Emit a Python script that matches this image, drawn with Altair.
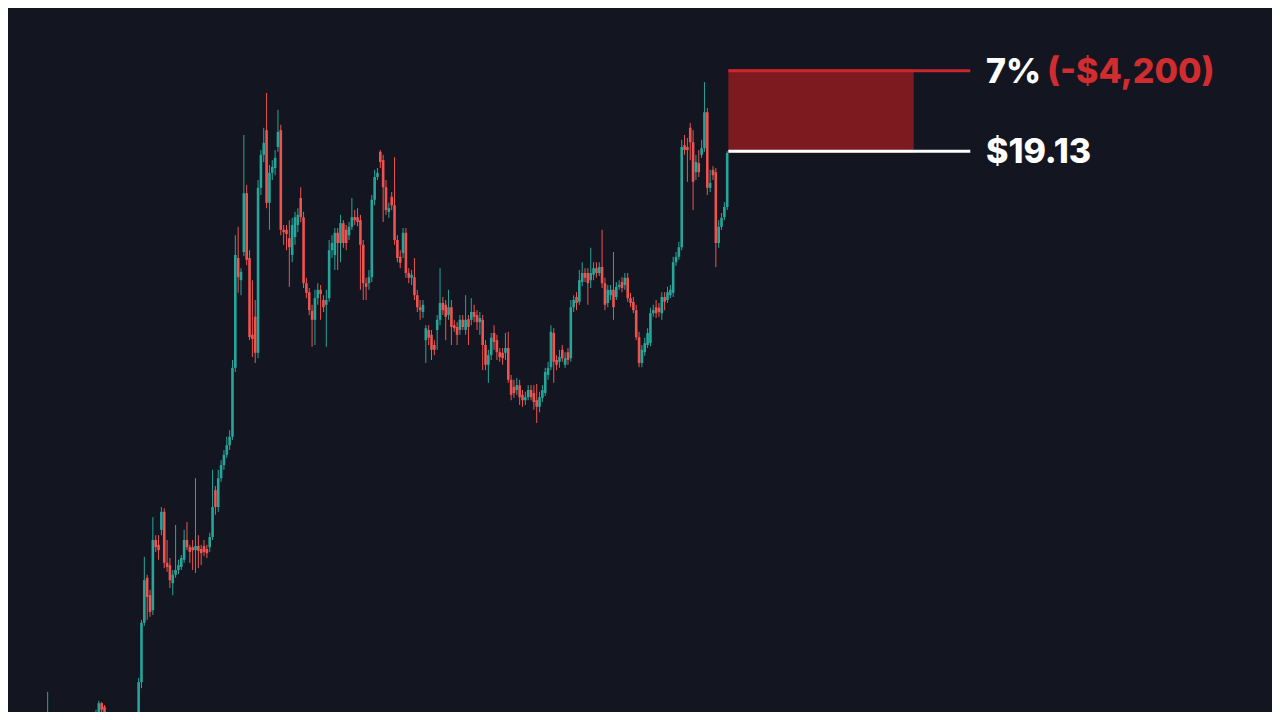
import altair as alt
import pandas as pd

# ---- candle data (price in $) ----
opens = [
    9.48, 9.52, 9.62, 9.52, 9.58, 9.48, 9.63, 9.55, 9.63, 9.75,
    9.62, 9.48, 9.35, 9.23, 9.28, 9.12, 8.98, 9.07, 8.95, 9.15,
    9.23, 9.18, 9.32, 9.40, 9.35, 9.48, 9.78, 9.93, 9.87, 9.75,
    9.57, 9.40, 9.28, 9.35, 9.18, 9.07, 9.15, 9.02, 9.12, 9.18,
    9.23, 10.28, 11.27, 12.02, 11.73, 11.48, 12.65, 12.57, 12.82, 13.12,
    12.27, 12.23, 11.93, 12.07, 12.15, 12.20, 12.32, 12.65, 12.53, 12.53,
    12.48, 12.55, 12.50, 12.55, 12.50, 12.53, 12.70, 13.48, 13.20, 13.68,
    13.90, 14.07, 14.23, 14.37, 15.52, 17.35, 16.98, 17.45, 18.43, 17.35,
    16.07, 16.37, 15.77, 18.52, 19.07, 19.48, 18.27, 18.77, 18.85, 19.20,
    19.48, 17.82, 17.82, 17.68, 17.40, 17.70, 17.90, 18.35, 18.03, 16.93,
    16.78, 16.47, 16.32, 16.68, 16.82, 16.65, 16.57, 16.68, 17.48, 17.40,
    17.77, 17.60, 17.93, 17.82, 17.73, 17.87, 18.03, 18.03, 17.98, 17.57,
    16.93, 16.93, 17.03, 18.32, 18.70, 19.12, 18.98, 18.53, 18.12, 18.37,
    18.23, 17.65, 17.37, 17.43, 17.77, 17.10, 17.02, 17.03, 16.73, 16.53,
    16.45, 15.98, 16.15, 16.07, 15.90, 16.15, 16.32, 16.60, 16.57, 16.40,
    16.53, 16.23, 16.20, 16.15, 16.32, 16.15, 16.33, 16.32, 16.45, 16.40,
    16.28, 16.32, 15.90, 15.57, 15.73, 16.10, 15.98, 15.78, 15.77, 15.77,
    15.85, 15.32, 15.20, 15.15, 15.23, 15.07, 14.98, 15.03, 15.15, 15.10,
    14.98, 14.87, 15.02, 15.10, 15.40, 15.53, 16.10, 15.65, 15.62, 15.82,
    15.57, 15.78, 15.68, 16.53, 16.70, 16.62, 16.95, 17.10, 17.10, 16.98,
    17.07, 17.18, 17.10, 17.20, 16.93, 16.60, 16.73, 16.82, 16.70, 16.87,
    16.95, 16.90, 17.02, 16.68, 16.62, 16.48, 16.03, 15.60, 15.78, 15.90,
    15.93, 16.43, 16.53, 16.52, 16.43, 16.70, 16.65, 16.73, 16.77, 17.28,
    17.37, 17.53, 19.23, 19.20, 19.52, 19.28, 18.78, 18.93, 19.07, 19.18,
    19.78, 18.52, 18.82, 18.78, 17.60, 17.87, 18.03, 18.20,
]
closes = [
    9.57, 9.65, 9.52, 9.58, 9.48, 9.65, 9.55, 9.68, 9.75, 9.62,
    9.48, 9.35, 9.23, 9.28, 9.12, 8.98, 9.07, 8.95, 9.15, 9.23,
    9.18, 9.32, 9.40, 9.35, 9.48, 9.78, 9.93, 9.82, 9.72, 9.57,
    9.40, 9.28, 9.35, 9.18, 9.07, 9.15, 9.02, 9.12, 9.18, 9.23,
    10.28, 11.27, 11.98, 11.70, 11.45, 12.65, 12.53, 12.48, 13.12, 12.27,
    12.20, 11.98, 12.07, 12.15, 12.23, 12.35, 12.65, 12.53, 12.45, 12.48,
    12.55, 12.47, 12.43, 12.45, 12.43, 12.70, 13.20, 13.20, 13.68, 13.90,
    14.07, 14.23, 14.37, 15.52, 17.40, 17.03, 17.12, 18.43, 17.32, 16.03,
    16.00, 15.77, 18.52, 19.07, 19.27, 18.27, 18.77, 18.87, 19.02, 19.45,
    17.82, 17.78, 17.75, 17.53, 17.90, 18.03, 18.07, 18.03, 16.93, 16.77,
    16.48, 16.32, 16.68, 16.82, 16.75, 16.53, 16.65, 17.48, 17.60, 17.77,
    17.60, 17.93, 17.60, 17.60, 17.87, 18.03, 17.98, 17.95, 17.57, 16.93,
    16.87, 17.03, 18.32, 18.70, 18.77, 18.95, 18.53, 18.15, 18.18, 18.23,
    17.65, 17.35, 17.27, 17.77, 17.10, 17.02, 17.07, 16.73, 16.53, 16.48,
    16.57, 16.18, 16.02, 15.82, 15.82, 16.32, 16.60, 16.48, 16.37, 16.53,
    16.20, 16.18, 16.07, 16.32, 16.20, 16.32, 16.20, 16.45, 16.37, 16.28,
    16.35, 15.90, 15.57, 15.73, 16.02, 15.95, 15.78, 15.70, 15.68, 15.85,
    15.32, 15.07, 15.10, 15.23, 15.03, 14.98, 15.03, 15.15, 15.03, 14.95,
    14.87, 15.03, 15.15, 15.45, 15.52, 16.12, 15.62, 15.57, 15.70, 15.68,
    15.68, 15.65, 16.53, 16.65, 16.60, 16.98, 17.10, 17.02, 16.93, 17.10,
    17.18, 17.10, 17.20, 16.93, 16.57, 16.82, 16.82, 16.53, 16.87, 16.90,
    16.85, 17.02, 16.68, 16.60, 16.48, 16.03, 15.60, 15.82, 15.93, 16.10,
    16.43, 16.48, 16.43, 16.45, 16.70, 16.62, 16.78, 16.82, 17.28, 17.37,
    17.53, 19.20, 19.15, 19.15, 19.28, 18.62, 18.95, 18.78, 19.18, 19.78,
    18.52, 18.60, 18.73, 17.60, 17.87, 18.02, 18.20, 19.10,
]
highs = [
    9.62, 9.72, 9.67, 9.63, 9.62, 9.75, 9.68, 9.73, 10.12, 9.78,
    9.65, 9.52, 9.40, 9.35, 9.32, 9.18, 9.15, 9.12, 9.18, 9.32,
    9.35, 9.40, 9.48, 9.52, 9.57, 9.82, 9.97, 9.95, 9.90, 9.78,
    9.62, 9.48, 9.40, 9.40, 9.23, 9.23, 9.22, 9.18, 9.28, 9.32,
    10.35, 11.32, 12.37, 12.07, 11.82, 13.03, 12.73, 12.73, 13.20, 13.18,
    12.65, 12.35, 12.15, 12.90, 12.32, 12.40, 12.82, 12.95, 12.57, 12.65,
    13.68, 12.73, 12.57, 12.65, 12.57, 12.77, 13.82, 13.55, 13.82, 13.98,
    14.15, 14.37, 14.48, 15.65, 17.73, 17.87, 17.18, 19.40, 18.57, 17.48,
    16.98, 16.65, 18.65, 19.15, 19.52, 20.10, 18.90, 18.98, 19.15, 19.82,
    19.57, 17.90, 17.90, 17.98, 18.02, 18.12, 18.18, 18.53, 18.12, 17.02,
    16.85, 16.57, 16.82, 16.93, 16.90, 16.73, 16.82, 17.65, 17.73, 17.85,
    17.85, 18.07, 17.98, 17.90, 17.95, 18.35, 18.15, 18.18, 18.07, 17.65,
    17.02, 17.15, 18.40, 18.82, 18.85, 19.15, 19.07, 18.65, 18.27, 18.45,
    19.03, 17.73, 17.48, 17.85, 17.85, 17.18, 17.15, 17.35, 16.82, 16.65,
    16.65, 16.23, 16.23, 16.15, 15.98, 16.40, 17.18, 16.70, 16.65, 16.82,
    16.65, 16.32, 16.28, 16.40, 16.40, 16.73, 16.40, 16.68, 16.57, 16.48,
    16.45, 16.40, 15.98, 15.82, 16.10, 16.23, 16.07, 15.85, 15.85, 16.10,
    16.12, 15.40, 15.32, 15.35, 15.32, 15.15, 15.12, 15.23, 15.23, 15.23,
    15.25, 15.12, 15.23, 15.52, 15.62, 16.23, 16.18, 15.73, 15.82, 15.90,
    15.78, 15.85, 16.65, 16.73, 16.78, 17.15, 17.28, 17.18, 17.18, 17.52,
    17.28, 17.28, 17.28, 17.82, 17.02, 16.90, 16.90, 17.45, 16.95, 16.98,
    17.03, 17.10, 17.10, 16.77, 16.70, 16.57, 16.12, 15.90, 16.02, 16.18,
    16.52, 16.57, 16.65, 16.60, 16.78, 16.78, 16.87, 16.90, 17.37, 17.45,
    17.62, 19.32, 19.40, 19.35, 19.60, 19.48, 19.07, 19.15, 19.32, 20.28,
    19.85, 18.82, 18.88, 18.85, 17.98, 18.10, 18.28, 19.13,
]
lows = [
    9.40, 9.45, 9.45, 9.40, 9.40, 9.40, 9.45, 9.48, 9.58, 9.52,
    9.40, 9.28, 9.15, 9.15, 9.05, 8.90, 8.90, 8.85, 8.88, 9.07,
    9.12, 9.12, 9.23, 9.28, 9.28, 9.40, 9.73, 9.78, 9.65, 9.48,
    9.32, 9.18, 9.15, 9.12, 8.98, 8.98, 8.95, 8.92, 9.05, 9.12,
    9.18, 10.18, 11.22, 11.32, 11.37, 11.40, 12.45, 12.32, 12.73, 12.18,
    12.12, 11.85, 11.73, 12.02, 12.08, 12.15, 12.27, 12.48, 12.27, 12.15,
    12.10, 12.18, 12.23, 12.38, 12.35, 12.45, 12.65, 13.07, 13.12, 13.62,
    13.82, 14.02, 14.15, 14.32, 15.45, 16.77, 16.73, 17.38, 17.23, 15.98,
    15.70, 15.60, 15.68, 18.40, 18.95, 18.18, 17.82, 18.65, 18.73, 19.12,
    17.73, 17.57, 17.48, 16.87, 17.28, 17.57, 17.78, 17.95, 16.85, 16.68,
    16.40, 15.87, 15.90, 16.57, 16.32, 16.45, 15.87, 16.62, 17.35, 17.15,
    17.15, 17.28, 17.52, 17.48, 17.65, 17.82, 17.90, 17.88, 16.82, 16.65,
    16.65, 16.82, 16.95, 18.23, 18.65, 18.85, 17.95, 18.07, 18.02, 18.15,
    17.57, 17.28, 17.18, 17.35, 17.02, 16.93, 16.90, 16.65, 16.45, 16.32,
    16.35, 15.60, 15.90, 15.65, 15.73, 15.82, 16.23, 16.40, 15.98, 16.32,
    15.90, 16.12, 15.90, 16.07, 16.15, 16.07, 15.90, 16.23, 16.28, 16.15,
    16.07, 15.48, 15.48, 15.27, 15.65, 15.82, 15.65, 15.62, 15.57, 15.65,
    15.27, 14.98, 15.02, 15.07, 14.90, 14.87, 14.90, 14.98, 14.98, 14.82,
    14.60, 14.78, 14.95, 15.05, 15.32, 15.48, 15.27, 15.48, 15.52, 15.62,
    15.52, 15.57, 15.62, 16.45, 16.48, 16.57, 16.88, 16.95, 16.57, 16.85,
    16.98, 17.02, 17.05, 16.85, 16.48, 16.53, 16.65, 16.32, 16.65, 16.82,
    16.78, 16.82, 16.62, 16.53, 16.43, 15.98, 15.53, 15.53, 15.72, 15.85,
    15.88, 16.37, 16.35, 16.37, 16.32, 16.48, 16.60, 16.68, 16.70, 17.22,
    17.32, 17.48, 19.07, 18.62, 18.98, 18.15, 18.65, 18.70, 19.02, 19.12,
    18.40, 18.45, 18.65, 17.20, 17.52, 17.82, 17.98, 18.15,
]

# ---- risk box annotation ----
entry_price = 19.13
stop_price = 20.47          # 7% above entry
entry_label = "$19.13"
pct_label = "7%"
loss_label = "(-$4,200)"

GREEN = "#26a69a"
RED = "#ef5350"
BG = "#131620"

df = pd.DataFrame({
    "i": list(range(len(opens))),
    "open": opens, "close": closes, "high": highs, "low": lows,
})
df["dir"] = ["up" if c >= o else "down" for o, c in zip(opens, closes)]

last_i = len(opens) - 1
box_start = last_i + 0.4
box_end = last_i + 65.6
line_end = last_i + 85.5
label_x = last_i + 91.0
loss_x = last_i + 112.5

xs = alt.Scale(domain=[-4.19, 436.85], nice=False, zero=False)
ys = alt.Scale(domain=[9.783, 21.517], nice=False, zero=False)
col = alt.Color("dir:N", scale=alt.Scale(domain=["up", "down"], range=[GREEN, RED]), legend=None)

base = alt.Chart(df)
wicks = base.mark_rule(strokeWidth=1, clip=True).encode(
    x=alt.X("i:Q", scale=xs, axis=None),
    y=alt.Y("low:Q", scale=ys, axis=None),
    y2="high:Q",
    color=col,
)
bodies = base.mark_bar(size=2.6, clip=True).encode(
    x=alt.X("i:Q", scale=xs, axis=None),
    y=alt.Y("open:Q", scale=ys, axis=None),
    y2="close:Q",
    color=col,
)

box_df = pd.DataFrame({"x0": [box_start], "x1": [box_end], "y0": [entry_price - 0.03], "y1": [stop_price + 0.03]})
box = alt.Chart(box_df).mark_rect(color="#7d1a1f").encode(
    x=alt.X("x0:Q", scale=xs, axis=None), x2="x1:Q",
    y=alt.Y("y0:Q", scale=ys, axis=None), y2="y1:Q",
)

lines_df = pd.DataFrame({
    "x0": [box_start, box_start], "x1": [line_end, line_end],
    "y": [stop_price, entry_price], "c": ["#c9272d", "#ffffff"],
})
lines = alt.Chart(lines_df).mark_rule(strokeWidth=3).encode(
    x=alt.X("x0:Q", scale=xs, axis=None), x2="x1:Q",
    y=alt.Y("y:Q", scale=ys, axis=None),
    color=alt.Color("c:N", scale=None),
)

text_df = pd.DataFrame({
    "x": [label_x, loss_x, label_x],
    "y": [stop_price, stop_price, entry_price],
    "t": [pct_label, loss_label, entry_label],
    "c": ["#ffffff", "#d12c2f", "#ffffff"],
})
texts = alt.Chart(text_df).mark_text(
    align="left", baseline="middle", font="Inter", fontWeight=800, fontSize=34, dy=2
).encode(
    x=alt.X("x:Q", scale=xs, axis=None),
    y=alt.Y("y:Q", scale=ys, axis=None),
    text="t:N",
    color=alt.Color("c:N", scale=None),
)

chart = alt.layer(box, wicks, bodies, lines, texts).properties(
    width=1264, height=704, padding=0, background=BG,
    autosize=alt.AutoSizeParams(type="fit", contains="padding"),
).configure_view(stroke=None)

chart.save("out.html", embed_options={"renderer": "svg", "actions": False})
